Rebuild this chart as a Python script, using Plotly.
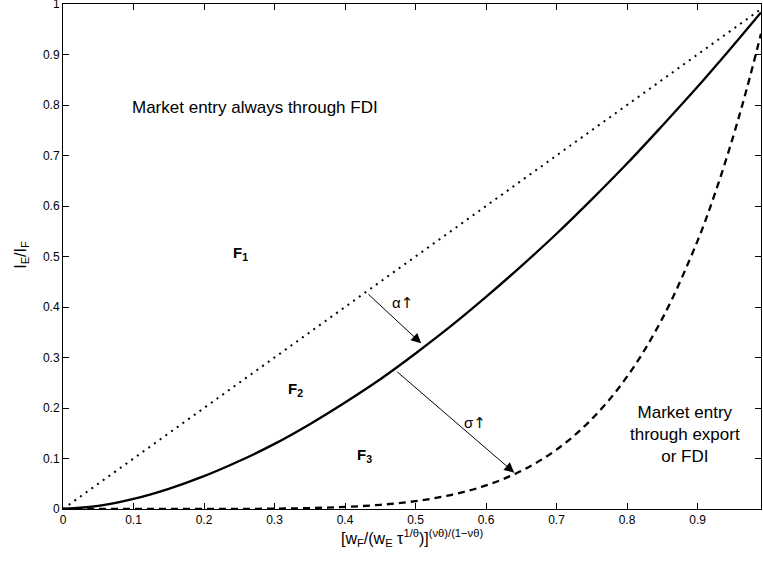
import plotly.graph_objects as go

# Data
x_vals = [0.0, 0.05, 0.1, 0.15, 0.2, 0.25, 0.3, 0.35, 0.4, 0.45, 0.5, 0.55, 0.6,
          0.65, 0.7, 0.75, 0.8, 0.85, 0.9, 0.925, 0.95, 0.97, 0.99]
dotted_vals = [0.0, 0.05, 0.1, 0.15, 0.2, 0.25, 0.3, 0.35, 0.4, 0.45, 0.5, 0.55, 0.6,
               0.65, 0.7, 0.75, 0.8, 0.85, 0.9, 0.925, 0.95, 0.97, 0.99]
solid_vals = [0.0, 0.006, 0.020, 0.040, 0.065, 0.095, 0.129, 0.168, 0.211, 0.257, 0.308,
              0.362, 0.420, 0.481, 0.545, 0.613, 0.684, 0.759, 0.836, 0.876, 0.917, 0.950, 0.983]
dashed_vals = [0.0, 0.0, 0.0, 0.0, 0.0001, 0.0002, 0.0007, 0.0018, 0.0041, 0.0083, 0.0156,
               0.0277, 0.0467, 0.0754, 0.1176, 0.178, 0.262, 0.377, 0.531, 0.626, 0.735, 0.833, 0.941]

x_ticks = [0, 0.1, 0.2, 0.3, 0.4, 0.5, 0.6, 0.7, 0.8, 0.9]
x_tick_labels = ["0", "0.1", "0.2", "0.3", "0.4", "0.5", "0.6", "0.7", "0.8", "0.9"]
y_ticks = [0, 0.1, 0.2, 0.3, 0.4, 0.5, 0.6, 0.7, 0.8, 0.9, 1.0]
y_tick_labels = ["0", "0.1", "0.2", "0.3", "0.4", "0.5", "0.6", "0.7", "0.8", "0.9", "1"]

# Arrows: (start x, start y, end x, end y), label, label position
arrow_alpha = [0.431, 0.428, 0.508, 0.328]
arrow_sigma = [0.472, 0.274, 0.640, 0.072]
label_alpha = ["α", 0.481, 0.407]
label_sigma = ["σ", 0.584, 0.171]

region_labels = [
    ("F<sub>1</sub>", 0.252, 0.505),
    ("F<sub>2</sub>", 0.330, 0.236),
    ("F<sub>3</sub>", 0.428, 0.105),
]
text_labels = [
    ("Market entry always through FDI", 0.273, 0.795),
    ("Market entry<br>through export<br>or FDI", 0.882, 0.147),
]
x_title = "[w<sub>F</sub>/(w<sub>E</sub> τ<sup>1/θ</sup>)]<sup>(νθ)/(1−νθ)</sup>"
y_title = "I<sub>E</sub>/I<sub>F</sub>"

FONT = "Liberation Sans, Arial, Helvetica, sans-serif"
UP = "<span style='font-family:DejaVu Sans;color:black'>↑</span>"

fig = go.Figure()
fig.add_trace(go.Scatter(x=x_vals, y=dotted_vals, mode="lines",
                         line=dict(color="black", width=2, dash="2px,5px"),
                         showlegend=False, hoverinfo="skip"))
fig.add_trace(go.Scatter(x=x_vals, y=solid_vals, mode="lines", line_shape="spline",
                         line=dict(color="black", width=2.3),
                         showlegend=False, hoverinfo="skip"))
fig.add_trace(go.Scatter(x=x_vals, y=dashed_vals, mode="lines", line_shape="spline",
                         line=dict(color="black", width=2.3, dash="7px,5px"),
                         showlegend=False, hoverinfo="skip"))

for a in (arrow_alpha, arrow_sigma):
    fig.add_annotation(x=a[2], y=a[3], ax=a[0], ay=a[1], xref="x", yref="y",
                       axref="x", ayref="y", showarrow=True, arrowhead=2,
                       arrowsize=2, arrowwidth=1, arrowcolor="black", text="")
for lab in (label_alpha, label_sigma):
    fig.add_annotation(x=lab[1], y=lab[2], text=lab[0] + UP, showarrow=False,
                       font=dict(family=FONT, size=15, color="black"))
for t, xx, yy in region_labels:
    fig.add_annotation(x=xx, y=yy, text="<b>" + t + "</b>", showarrow=False,
                       font=dict(family=FONT, size=15, color="black"))
for t, xx, yy in text_labels:
    fig.add_annotation(x=xx, y=yy, text=t, showarrow=False,
                       font=dict(family=FONT, size=17, color="black"))

# axis titles
fig.add_annotation(x=0.5, y=-0.058, xref="paper", yref="paper", text=x_title,
                   xanchor="center", yanchor="middle",
                   showarrow=False, font=dict(family=FONT, size=16, color="black"))
fig.add_annotation(x=-0.059, y=0.503, xref="paper", yref="paper", text=y_title,
                   xanchor="center", yanchor="middle",
                   textangle=-90, showarrow=False,
                   font=dict(family=FONT, size=16, color="black"))

axis_common = dict(showline=True, linecolor="black", linewidth=1, mirror="ticks",
                   ticks="inside", ticklen=6, tickwidth=1, tickcolor="black",
                   showgrid=False, zeroline=False, automargin=False,
                   ticklabeloverflow="allow",
                   tickfont=dict(family=FONT, size=12, color="black"))

fig.update_xaxes(range=[0, 0.99], tickvals=x_ticks, ticktext=x_tick_labels, **axis_common)
fig.update_yaxes(range=[0, 1], tickvals=y_ticks, ticktext=y_tick_labels, **axis_common)

fig.update_layout(width=763, height=561, margin=dict(l=63, r=2, t=4, b=52),
                  plot_bgcolor="white", paper_bgcolor="white")

fig.write_html("out.html", config={"displayModeBar": False},
               post_script="document.body.style.margin='0';document.body.style.padding='0';"
                           "document.body.style.overflow='hidden';")
